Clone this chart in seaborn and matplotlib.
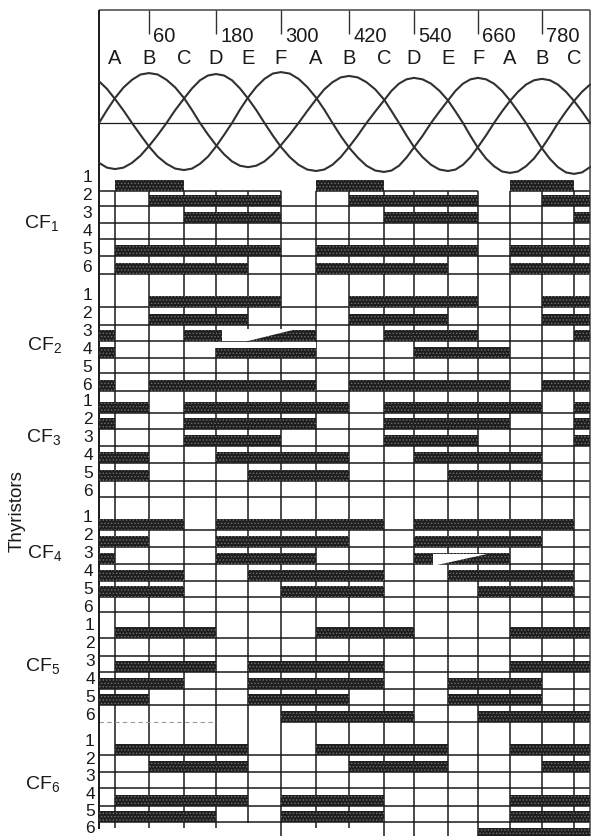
import numpy as np
import pandas as pd
import seaborn as sns
import matplotlib.pyplot as plt

sns.set_theme(style="white")
plt.rcParams['font.family'] = ['Liberation Sans', 'DejaVu Sans']
plt.rcParams['mathtext.default'] = 'regular'
plt.rcParams['hatch.linewidth'] = 0.6

# firing angle of each gridline and where it was printed on the page (the scan is not even)
grid_deg = [0, 60, 120, 180, 240, 300, 360, 420, 480, 540, 600, 660, 720, 780, 840]
tick_deg = [60, 180, 300, 420, 540, 660, 780]
letters = list("ABCDEFABCDEFABC")

# three phase waves, read every 15 degrees from -30 to 870
wave_deg = list(range(-30, 871, 15))
wave_a = [0, .27, .52, .74, .90, 1.01, 1.04, 1.01, .90, .74, .52, .27, 0, -.24, -.46, -.65, -.80, -.89, -.92, -.89,
          -.80, -.65, -.46, -.24, 0, .25, .49, .70, .85, .95, .98, .95, .85, .70, .49, .25, 0, -.26, -.50, -.71,
          -.87, -.97, -1.00, -.97, -.87, -.71, -.50, -.26, 0, .24, .46, .65, .80, .89, .92, .89, .80, .65, .46, .24, 0]
wave_b = [-.83, -.93, -.96, -.93, -.83, -.68, -.48, -.25, 0, .27, .51, .72, .89, .99, 1.02, .99, .89, .72, .51, .27,
          0, -.26, -.50, -.71, -.87, -.97, -1.00, -.97, -.87, -.71, -.50, -.26, 0, .24, .47, .67, .82, .91, .94, .91,
          .82, .67, .47, .24, 0, -.27, -.52, -.74, -.90, -1.01, -1.04, -1.01, -.90, -.74, -.52, -.27, 0, .24, .46, .65, .80]
wave_c = [.87, .71, .50, .26, 0, -.25, -.49, -.70, -.85, -.95, -.98, -.95, -.85, -.70, -.49, -.25, 0, .28, .53, .75,
          .92, 1.03, 1.06, 1.03, .92, .75, .53, .28, 0, -.27, -.51, -.72, -.89, -.99, -1.02, -.99, -.89, -.72, -.51, -.27,
          0, .24, .47, .67, .82, .91, .94, .91, .82, .67, .47, .24, 0, -.27, -.53, -.75, -.92, -1.03, -1.06, -1.03, -.92]

# conduction intervals in degrees, one list per thyristor 1-6
cf1 = [[(0, 120), (360, 480), (720, 840)],
       [(60, 300), (420, 660), (780, 870)],
       [(120, 300), (480, 660), (840, 870)],
       [],
       [(0, 300), (360, 660), (720, 870)],
       [(0, 240), (360, 600), (720, 870)]]
cf2 = [[(60, 300), (420, 660), (780, 870)],
       [(60, 240), (420, 600), (780, 870)],
       [(-30, 0), (120, 360), (480, 660), (840, 870)],
       [(-30, 0), (180, 360), (540, 720)],
       [],
       [(-30, 0), (60, 360), (420, 720), (780, 870)]]
cf3 = [[(-30, 60), (120, 420), (480, 780), (840, 870)],
       [(-30, 0), (120, 360), (480, 720), (840, 870)],
       [(120, 300), (480, 660), (840, 870)],
       [(-30, 60), (180, 420), (540, 780)],
       [(-30, 60), (240, 420), (600, 780)],
       []]
cf4 = [[(-30, 120), (180, 480), (540, 840)],
       [(-30, 60), (180, 420), (540, 780)],
       [(-30, 0), (180, 360), (540, 720)],
       [(-30, 120), (240, 480), (600, 840)],
       [(-30, 120), (300, 480), (660, 840)],
       []]
cf5 = [[(0, 180), (360, 540), (720, 870)],
       [],
       [(0, 180), (240, 480), (720, 870)],
       [(-30, 120), (240, 480), (600, 780)],
       [(-30, 60), (240, 420), (600, 780)],
       [(300, 540), (660, 870)]]
cf6 = [[(0, 240), (360, 600), (720, 870)],
       [(60, 240), (420, 600), (780, 870)],
       [],
       [(0, 240), (300, 480), (720, 870)],
       [(-30, 180), (300, 480), (720, 870)],
       [(660, 870)]]
groups = [cf1, cf2, cf3, cf4, cf5, cf6]
group_names = ["CF$_1$", "CF$_2$", "CF$_3$", "CF$_4$", "CF$_5$", "CF$_6$"]

# layout on the page, in pixels
knot_deg = [-210, -30] + grid_deg + [870, 871.6]
knot_px = [0, 99, 115, 149, 184, 216, 248, 281, 316, 349, 384, 414, 448, 478, 510, 542, 574, 590, 591]
row_lines = [[192, 207, 224, 240, 257, 275], [308, 326, 342, 359, 374, 392], [414, 430, 447, 464, 482, 498],
             [531, 548, 565, 582, 598, 613], [639, 657, 673, 690, 706, 723], [756, 773, 789, 807, 823, 840]]
num_y = [[177, 195, 213, 231, 249, 267], [295, 313, 331, 349, 367, 385], [402, 420, 438, 456, 474, 492],
         [518, 536, 554, 572, 590, 608], [625, 643, 661, 679, 697, 715], [741, 759, 777, 795, 812, 829]]
name_pos = [(42, 223), (45, 345), (44, 437), (45, 553), (43, 666), (43, 784)]
num_x = [87, 87, 88, 88, 90, 90]
ink = "#1a1a1a"


def to_px(d):
    return np.interp(d, knot_deg, knot_px)


def to_deg(p):
    return np.interp(p, knot_px, knot_deg)


fig = plt.figure(figsize=(5.91, 8.37), dpi=100)
ax = fig.add_axes([0, 0, 1, 1])
ax.set_xscale('function', functions=(to_px, to_deg))
ax.set_xlim(-210, 871.6)
ax.set_ylim(837, 0)
ax.axis('off')

# frame and top ticks
ax.hlines(11, -30, 870, color="#444444", lw=1.1)
ax.vlines(-30, 11, 830, color=ink, lw=1.4)
ax.vlines(870, 11, 837, color="#444444", lw=1.1)
ax.vlines(tick_deg, 11, 35, color="#333333", lw=1.0)
for d in tick_deg:
    ax.annotate(str(d), (d, 36), xytext=(3, 0), textcoords='offset points', fontsize=14.5,
                color=ink, ha='left', va='center')
for d, s in zip(grid_deg, letters):
    ax.text(d, 58, s, fontsize=14.5, color=ink, ha='center', va='center')

# gridlines
short = {0: 829, 60: 829, 120: 829, 180: 829, 240: 824, 360: 829, 420: 829}
for d in grid_deg:
    ax.vlines(d, 192, short.get(d, 837), color=ink, lw=1.1, zorder=1)
for i, lines in enumerate(row_lines):
    for j, y in enumerate(lines):
        if i == 0 and j == 0:
            for a, b in [(-30, 300), (360, 660), (720, 870)]:
                ax.hlines(y, a, b, color=ink, lw=1.1, zorder=1)
        elif i == 4 and j == 5:
            ax.hlines(y, 300, 870, color=ink, lw=1.1, zorder=1)
            ax.hlines(y, -30, 180, color="#999999", lw=0.8, ls=(0, (4, 3)), zorder=1)
        else:
            ax.hlines(y, -30, 870, color=ink, lw=1.1, zorder=1)

# conduction bars
for i, group in enumerate(groups):
    for j, spans in enumerate(group):
        y = row_lines[i][j]
        for a, b in spans:
            ax.barh(y - 5.2, b - a, left=a, height=11, color="#1f1f1f", edgecolor="#6e6e6e",
                    hatch='.....', lw=0, zorder=2)

# torn patches of the printed page
for tear in [[(222, 330), (297, 330), (248, 342), (222, 342)],
             [(205, 343), (316, 343), (316, 348.5), (205, 348.5)],
             [(433, 555), (487, 555), (437, 566), (433, 566)]]:
    ax.fill([to_deg(p[0]) for p in tear], [p[1] for p in tear], color="white", lw=0, zorder=3)

# row numbers and group names
for i in range(6):
    for j, y in enumerate(num_y[i]):
        ax.text(to_deg(num_x[i]), y, str(j + 1), fontsize=12.5, color=ink, ha='center', va='center')
    ax.text(to_deg(name_pos[i][0]), name_pos[i][1], group_names[i], fontsize=14, color=ink,
            ha='center', va='center')
ax.text(to_deg(17), 511, "Thyristors", rotation=90, fontsize=13.5, color=ink, ha='center', va='center')

# waves on their own vertical scale, 48 px to one unit
ax2 = ax.twinx()
ax2.set_ylim((124 - 837) / 48, 124 / 48)
ax2.axis('off')
ax2.hlines(0, -30, 870, color=ink, lw=0.9)
df = pd.DataFrame({"deg": wave_deg * 3, "v": wave_a + wave_b + wave_c,
                   "phase": ["a"] * 61 + ["b"] * 61 + ["c"] * 61})
sns.lineplot(data=df, x="deg", y="v", hue="phase", palette=["#303030"] * 3, lw=1.5,
             errorbar=None, legend=False, ax=ax2)
ax2.axis('off')

fig.savefig("out.png", dpi=100, facecolor="white")
